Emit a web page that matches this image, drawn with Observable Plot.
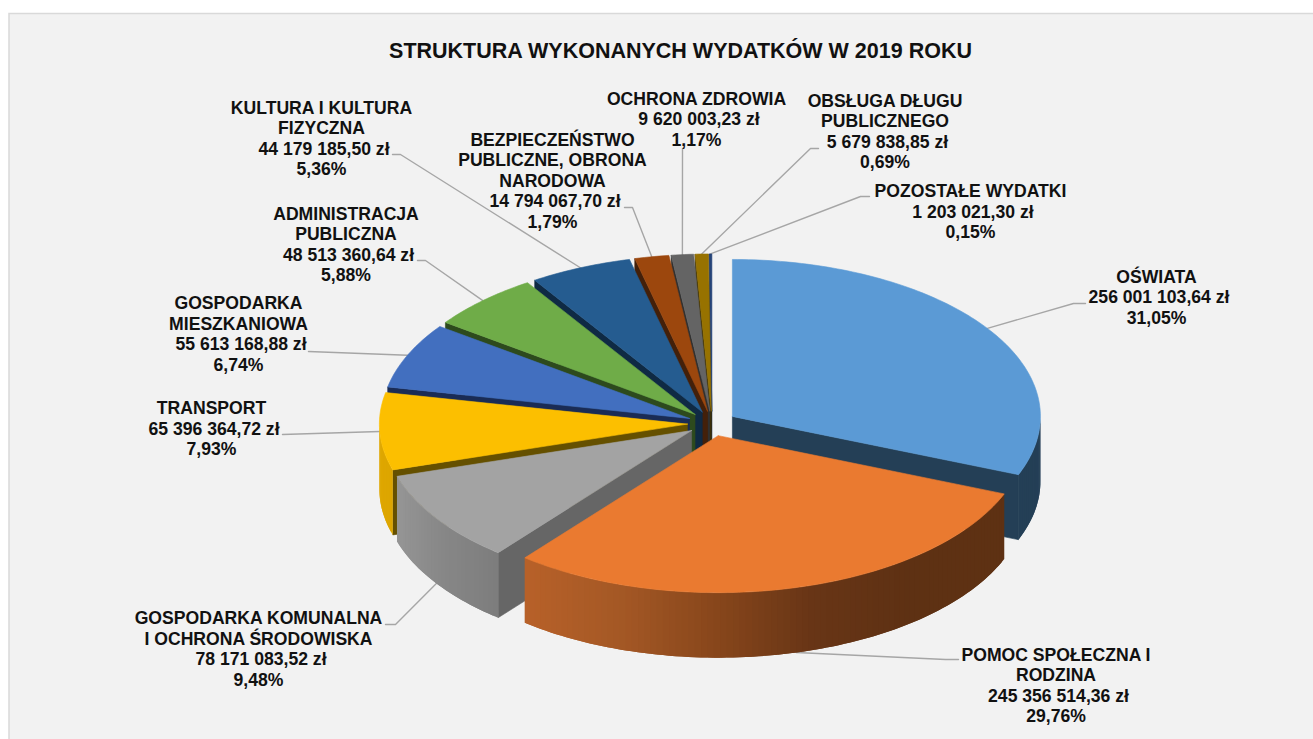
<!DOCTYPE html>
<html lang="pl">
<head>
<meta charset="utf-8">
<title>Struktura wykonanych wydatków w 2019 roku</title>
<style>
html,body{margin:0;padding:0;background:#fff;overflow:hidden}
svg{display:block}
</style>
<script src="https://cdn.jsdelivr.net/npm/d3@7"></script>
<script src="https://cdn.jsdelivr.net/npm/@observablehq/plot@0.6"></script>
</head>
<body>
<div id="chart"></div>
<script>
// Data
const chartTitle = "STRUKTURA WYKONANYCH WYDATKÓW W 2019 ROKU";
const categories = [
  "OŚWIATA",
  "POMOC SPOŁECZNA I\nRODZINA",
  "GOSPODARKA KOMUNALNA\nI OCHRONA ŚRODOWISKA",
  "TRANSPORT",
  "GOSPODARKA\nMIESZKANIOWA",
  "ADMINISTRACJA\nPUBLICZNA",
  "KULTURA I KULTURA\nFIZYCZNA",
  "BEZPIECZEŃSTWO\nPUBLICZNE, OBRONA\nNARODOWA",
  "OCHRONA ZDROWIA",
  "OBSŁUGA DŁUGU\nPUBLICZNEGO",
  "POZOSTAŁE WYDATKI"
];
const amounts = [256001103.64, 245356514.36, 78171083.52, 65396364.72, 55613168.88, 48513360.64, 44179185.50, 14794067.70, 9620003.23, 5679838.85, 1203021.30];

// Styles
const topColors  = ["#5b9ad5","#ea7a30","#a3a3a3","#fcbf00","#426fbf","#6fac48","#255c90","#9c470d","#646464","#977200","#264478"];
const wallColors = ["#243f56","#5e3113","#666666","#655000","#1a2c55","#2d4a1d","#0f2a44","#43200a","#303030","#3f3000","#101c33"];
const rimColors  = [
  ["#243f56","#243f56"],
  ["#b86129","#a45825","#87461b","#683516","#5e3113","#5e3113"],
  ["#959595","#868686","#7d7d7d"],
  ["#dfa700","#dca500"],
  ["#1a2c55","#1a2c55"],["#2d4a1d","#2d4a1d"],["#0f2a44","#0f2a44"],["#43200a","#43200a"],["#303030","#303030"],["#3f3000","#3f3000"],["#101c33","#101c33"]
];

// Layout
const W = 1313, H = 739;
const cx = 711.5, cy = 423, rx = 308, ry = 157, depth = 65, explode = 0.08;
const lineStep = 20.5, amountShift = 2.5;
const panel = [{x1: 9, y1: 13.5, x2: 1330, y2: 760}];
const labelX = [1156, 1055.5, 258, 211, 238, 345.5, 321, 552, 696, 884.5, 970];
const labelY = [297, 685.5, 649, 428.5, 334, 244.5, 138.5, 180.5, 119, 131.5, 211.5];
const elbowX = [1073, 945, 395, 282, 308, 425, 400, 632, 682, 810, 860];
const elbowY = [303, 659, 624, 434, 351, 260, 154, 207, 148, 148, 196];
const tailX  = [1085, 958, 385, 282, 308, 417, 392, 624, 682, 818, 869];

// Derived geometry, all from the amounts
const total = d3.sum(amounts);
const plLocale = d3.formatLocale({decimal: ",", thousands: " ", grouping: [3], currency: ["", " zł"]});
const fmtAmount = plLocale.format(",.2f");
const fmtPct = plLocale.format(".2f");

let acc = 0;
const slices = amounts.map((v, i) => {
  const a0 = acc / total * 360; acc += v;
  const a1 = acc / total * 360;
  const mid = (a0 + a1) / 2;
  const rad = mid * Math.PI / 180;
  return {i, a0, a1, mid,
    ax: cx + explode * rx * Math.sin(rad),
    ay: cy - explode * ry * Math.cos(rad)};
});
const rimPoint = (s, a, dz = 0) => {
  const r = a * Math.PI / 180;
  return [s.ax + rx * Math.sin(r), s.ay - ry * Math.cos(r) + dz];
};

const faces = [];
let faceId = 0;
const addFace = (pts, color, edge = color) => {
  faceId++;
  for (const [x, y] of pts) faces.push({face: faceId, x, y, color, edge});
};

// Painter's order: back left to front left, then the right slice, then the front one.
const order = [10, 9, 8, 7, 6, 5, 4, 3, 2, 0, 1];
for (const k of order) {
  const s = slices[k];
  // radial walls: only those turned towards the viewer
  if (s.a0 >= 180) {
    const p = rimPoint(s, s.a0), q = rimPoint(s, s.a0, depth);
    addFace([[s.ax, s.ay], p, q, [s.ax, s.ay + depth], [s.ax, s.ay]], wallColors[k]);
  }
  if (s.a1 <= 180) {
    const p = rimPoint(s, s.a1), q = rimPoint(s, s.a1, depth);
    addFace([[s.ax, s.ay], p, q, [s.ax, s.ay + depth], [s.ax, s.ay]], wallColors[k]);
  }
  // outer rim, as overlapping strips to carry the shading without seams
  const lo = Math.max(s.a0, 90), hi = Math.min(s.a1, 270);
  if (hi > lo) {
    const ramp = d3.piecewise(d3.interpolateRgb, rimColors[k]);
    const xLeft = rimPoint(s, hi)[0], xRight = rimPoint(s, lo)[0];
    const n = Math.ceil((hi - lo) / 1.2);
    for (let j = 0; j < n; j++) {
      const b0 = lo + (hi - lo) * j / n;
      const b1 = lo + (hi - lo) * (j + 1) / n;
      const b2 = lo + (hi - lo) * Math.min(n, j + 2) / n;
      const t = ((rimPoint(s, b0)[0] + rimPoint(s, b1)[0]) / 2 - xLeft) / Math.max(1, xRight - xLeft);
      const top = [], bottom = [];
      for (const b of [b0, b1, b2]) { top.push(rimPoint(s, b)); bottom.unshift(rimPoint(s, b, depth)); }
      addFace([...top, ...bottom, top[0]], ramp(Math.max(0, Math.min(1, t))), "none");
    }
  }
  // top face
  const arc = [[s.ax, s.ay]];
  const steps = Math.max(2, Math.ceil(s.a1 - s.a0));
  for (let j = 0; j <= steps; j++) arc.push(rimPoint(s, s.a0 + (s.a1 - s.a0) * j / steps));
  arc.push([s.ax, s.ay]);
  addFace(arc, topColors[k]);
}

// Leader lines from each slice's mid-angle to its label
const leaders = [];
slices.forEach((s, i) => {
  const front = Math.cos(s.mid * Math.PI / 180) < -0.5;
  const [x, y] = rimPoint(s, s.mid, front ? depth : 0);
  leaders.push({id: i, x, y}, {id: i, x: elbowX[i], y: elbowY[i]}, {id: i, x: tailX[i], y: elbowY[i]});
});

// One row per label line; the amount line sits slightly to the right as in the original
const labelLines = categories.flatMap((c, i) => {
  const names = c.split("\n");
  const lines = [...names, `${fmtAmount(amounts[i])} zł`, `${fmtPct(amounts[i] / total * 100)}%`];
  return lines.map((text, j) => ({
    text,
    x: labelX[i] + (j === names.length ? amountShift : 0),
    y: labelY[i] + (j - (lines.length - 1) / 2) * lineStep
  }));
});

const chart = Plot.plot({
  width: W, height: H,
  margin: 0,
  x: {domain: [0, W], range: [0, W], axis: null},
  y: {domain: [0, H], range: [0, H], axis: null},
  color: {type: "identity"},
  style: {background: "#ffffff"},
  marks: [
    Plot.rect(panel, {x1: d => d.x1, x2: d => d.x2, y1: d => d.y1, y2: d => d.y2, fill: "#f2f2f2", stroke: "#d9d9d9", strokeWidth: 1.5}),
    Plot.line(leaders, {x: "x", y: "y", z: "id", stroke: "#a6a6a6", strokeWidth: 1.4, curve: "linear"}),
    Plot.line(faces, {x: "x", y: "y", z: "face", fill: d => d.color, stroke: d => d.edge, strokeWidth: 0.6, curve: "linear"}),
    Plot.text(labelLines, {x: "x", y: "y", text: "text", textAnchor: "middle", lineAnchor: "middle",
      fontFamily: "Liberation Sans", fontWeight: "bold", fontSize: 17.6, fill: "#111111"}),
    Plot.text([chartTitle], {x: () => 680, y: () => 51, text: d => d, textAnchor: "middle", lineAnchor: "middle",
      fontFamily: "Liberation Sans", fontWeight: "bold", fontSize: 21.5, fill: "#111111"})
  ]
});
document.getElementById("chart").append(chart);
</script>
</body>
</html>
